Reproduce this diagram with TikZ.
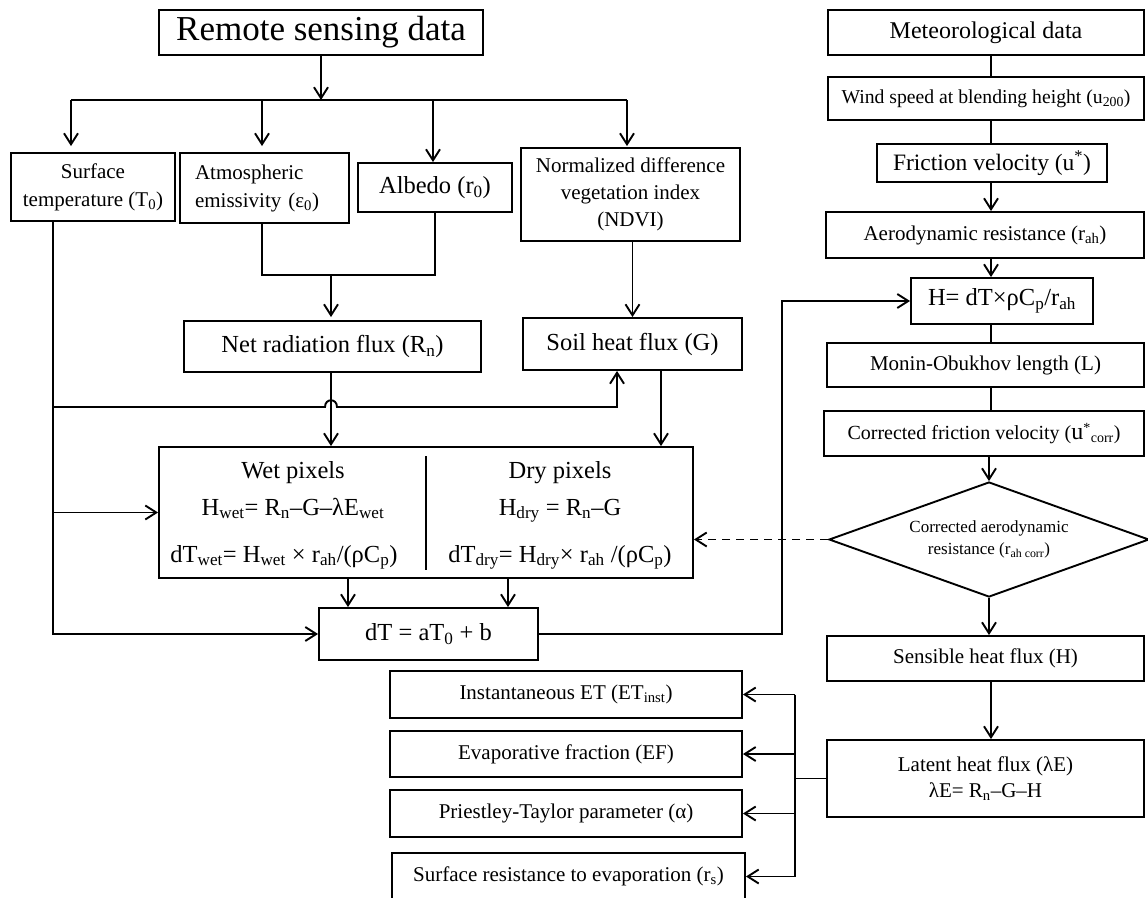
\documentclass[tikz,border=0pt]{standalone}
\usepackage{fontspec}
\setmainfont{Liberation Serif}
\usetikzlibrary{arrows.meta,shapes.geometric}
\newcommand{\dn}[1]{\textsubscript{#1}}
\newcommand{\up}[1]{\textsuperscript{#1}}
\newcommand{\fs}[2]{\fontsize{#1}{#2}\selectfont}
\begin{document}
\begin{tikzpicture}[x=1pt,y=-1pt,
  box/.style={draw, line width=1.9pt, rectangle, inner sep=0pt, align=center},
  conn/.style={line width=1.9pt},
  arr/.style={conn, -{Straight Barb[length=11pt,width=14pt,line width=1.9pt]}},
  txt/.style={inner sep=0pt, anchor=base}]
\useasboundingbox (0,0) rectangle (1148,897);

% ---------------- left part: boxes
\node[box, minimum width=324pt, minimum height=45pt, font=\fs{35}{40}] (rs) at (321,32.5) {Remote sensing data};
\node[box, minimum width=164pt, minimum height=68pt, font=\fs{21}{28}] (st) at (93,187) {Surface\\ temperature (T\dn{0})};
\node[box, minimum width=169pt, minimum height=70pt, text width=139pt, inner xsep=15pt, align=left, font=\fs{21}{28}] (atmo) at (264.5,188) {Atmospheric\\ emissivity (ε\dn{0})};
\node[box, minimum width=154pt, minimum height=49pt, font=\fs{24.5}{28}] (alb) at (435,187.5) {Albedo (r\dn{0})};
\node[box, minimum width=219pt, minimum height=93pt, font=\fs{21}{27}] (ndvi) at (630.5,194.5) {Normalized difference\\ vegetation index\\ (NDVI)};
\node[box, minimum width=297pt, minimum height=51pt, font=\fs{24.5}{28}] (net) at (332.5,346.5) {Net radiation flux (R\dn{n})};
\node[box, minimum width=219pt, minimum height=52pt, font=\fs{24.5}{28}] (soil) at (632.5,344) {Soil heat flux (G)};
\node[box, minimum width=534pt, minimum height=131pt] (wd) at (426,512.5) {};
\node[txt, font=\fs{24.5}{28}] (wet1) at (293,478) {Wet pixels};
\node[txt, font=\fs{24.5}{28}] (wet2) at (293,515) {H\dn{wet}= R\dn{n}–G–λE\dn{wet}};
\node[txt, font=\fs{24.5}{28}] (wet3) at (284,562) {dT\dn{wet}= H\dn{wet} × r\dn{ah}/(ρC\dn{p})};
\node[txt, font=\fs{24.5}{28}] (dry1) at (560,478) {Dry pixels};
\node[txt, font=\fs{24.5}{28}] (dry2) at (560,515) {H\dn{dry} = R\dn{n}–G};
\node[txt, font=\fs{24.5}{28}] (dry3) at (560,562) {dT\dn{dry}= H\dn{dry}× r\dn{ah} /(ρC\dn{p})};
\coordinate (dvt) at (426,456);
\coordinate (dvb) at (426,570);
\draw[conn] (dvt) -- (dvb);
\node[box, minimum width=219pt, minimum height=52pt, font=\fs{24.5}{28}] (dT) at (428.5,634) {dT = aT\dn{0} + b};

% outputs
\node[box, minimum width=352pt, minimum height=47pt, font=\fs{21}{27}] (et) at (566,694.5) {Instantaneous ET (ET\dn{inst})};
\node[box, minimum width=352pt, minimum height=46pt, font=\fs{21}{27}] (ef) at (566,754) {Evaporative fraction (EF)};
\node[box, minimum width=352pt, minimum height=47pt, font=\fs{21}{27}] (pt) at (566,813.5) {Priestley-Taylor parameter (α)};
\node[box, minimum width=353pt, minimum height=47pt, font=\fs{21}{27}] (sr) at (568.5,876.5) {Surface resistance to evaporation (r\dn{s})};

% ---------------- right column
\node[box, minimum width=316pt, minimum height=45pt, font=\fs{24}{28}] (met) at (986,32.5) {Meteorological data};
\node[box, minimum width=316pt, minimum height=43pt, font=\fs{19.7}{24}] (wind) at (986,98.5) {Wind speed at blending height (u\dn{200})};
\node[box, minimum width=230pt, minimum height=38pt, font=\fs{23.5}{28}] (fric) at (992,163) {Friction velocity (u\up{*})};
\node[box, minimum width=318pt, minimum height=46pt, font=\fs{21}{27}] (aero) at (985,235) {Aerodynamic resistance (r\dn{ah})};
\node[box, minimum width=182pt, minimum height=46pt, font=\fs{24.5}{28}] (H) at (1002,301) {H= dT×ρC\dn{p}/r\dn{ah}};
\node[box, minimum width=317pt, minimum height=44pt, font=\fs{21}{27}] (monin) at (985.5,365) {Monin-Obukhov length (L)};
\node[box, minimum width=320pt, minimum height=45pt, font=\fs{20}{26}] (cfric) at (984,433.5) {Corrected friction velocity ({\fs{24}{26}u}\up{*}\dn{corr})};
\node[draw, line width=1.9pt, shape=diamond, aspect=2.78, inner sep=0pt, minimum width=320pt, minimum height=115pt, align=center, font=\fs{17}{22}] (dia) at (989,539.5) {Corrected aerodynamic\\ resistance (r\dn{ah corr})};
\node[box, minimum width=317pt, minimum height=45pt, font=\fs{21}{27}] (sens) at (985.5,658.5) {Sensible heat flux (H)};
\node[box, minimum width=317pt, minimum height=77pt, font=\fs{21}{26}] (lat) at (985.5,778.5) {Latent heat flux (λE)\\ λE= R\dn{n}–G–H};

% ---------------- helper coordinates
\coordinate (bL) at (71,100);
\coordinate (bA) at (262,100);
\coordinate (bB) at (433,100);
\coordinate (bR) at (627,100);
\coordinate (mL) at (262,275);
\coordinate (mR) at (435,275);
\coordinate (mC) at (331,275);
\coordinate (xN) at (331,0);
\coordinate (xG) at (661,0);
\coordinate (L) at (53,0);
\coordinate (j1) at (53,407);
\coordinate (j2) at (325,407);
\coordinate (j3) at (337,407);
\coordinate (j4) at (617,407);
\coordinate (w1) at (348,0);
\coordinate (w2) at (508,0);
\coordinate (rj) at (782,0);
\coordinate (cx) at (991,0);
\coordinate (sp) at (795,0);

% ---------------- connectors, left part
\draw[arr] (rs.south) -- (rs.south |- bL);
\draw[conn] (bL) -- (bR);
\draw[arr, shorten >=6pt] (bL) -- (bL |- st.north);
\draw[arr, shorten >=6pt] (bA) -- (bA |- atmo.north);
\draw[arr] (bB) -- (bB |- alb.north);
\draw[arr, shorten >=1pt] (bR) -- (bR |- ndvi.north);
\draw[conn] (mL |- atmo.south) -- (mL) -- (mR) -- (alb.south);
\draw[arr, shorten >=3pt] (mC) -- (xN |- net.north);
\draw[arr] (soil.north |- ndvi.south) -- (soil.north);
\draw[arr] (xN |- net.south) -- (xN |- wd.north);
\draw[arr] (xG |- soil.south) -- (xG |- wd.north);
\draw[conn] (L |- st.south) -- (j1);
\draw[arr] (j1) -- (j2) .. controls (325,398) and (337,398) .. (j3) -- (j4) -- (j4 |- soil.south);
\draw[arr] (L |- wd.west) -- (wd.west);
\draw[arr] (j1) |- (dT.west);
\draw[arr] (w1 |- wd.south) -- (w1 |- dT.north);
\draw[arr] (w2 |- wd.south) -- (w2 |- dT.north);
\draw[arr] (dT.east) -| (rj |- H.west) -- (H.west);
\draw[arr, dash pattern=on 8pt off 6pt] (dia.west) -- (wd.east |- dia.west);

% ---------------- connectors, right column
\draw[conn] (cx |- met.south) -- (cx |- wind.north);
\draw[conn] (cx |- wind.south) -- (cx |- fric.north);
\draw[arr] (cx |- fric.south) -- (cx |- aero.north);
\draw[arr] (cx |- aero.south) -- (cx |- H.north);
\draw[conn] (cx |- H.south) -- (cx |- monin.north);
\draw[conn] (cx |- monin.south) -- (cx |- cfric.north);
\draw[arr] (dia.north |- cfric.south) -- (dia.north);
\draw[arr] (dia.south) -- (dia.south |- sens.north);
\draw[arr] (cx |- sens.south) -- (cx |- lat.north);

% ---------------- outputs
\draw[conn] (lat.west) -- (sp |- lat.west);
\draw[conn] (sp |- et.east) -- (sp |- sr.east);
\draw[arr] (sp |- et.east) -- (et.east);
\draw[arr] (sp |- ef.east) -- (ef.east);
\draw[arr] (sp |- pt.east) -- (pt.east);
\draw[arr] (sp |- sr.east) -- (sr.east);
\end{tikzpicture}
\end{document}
